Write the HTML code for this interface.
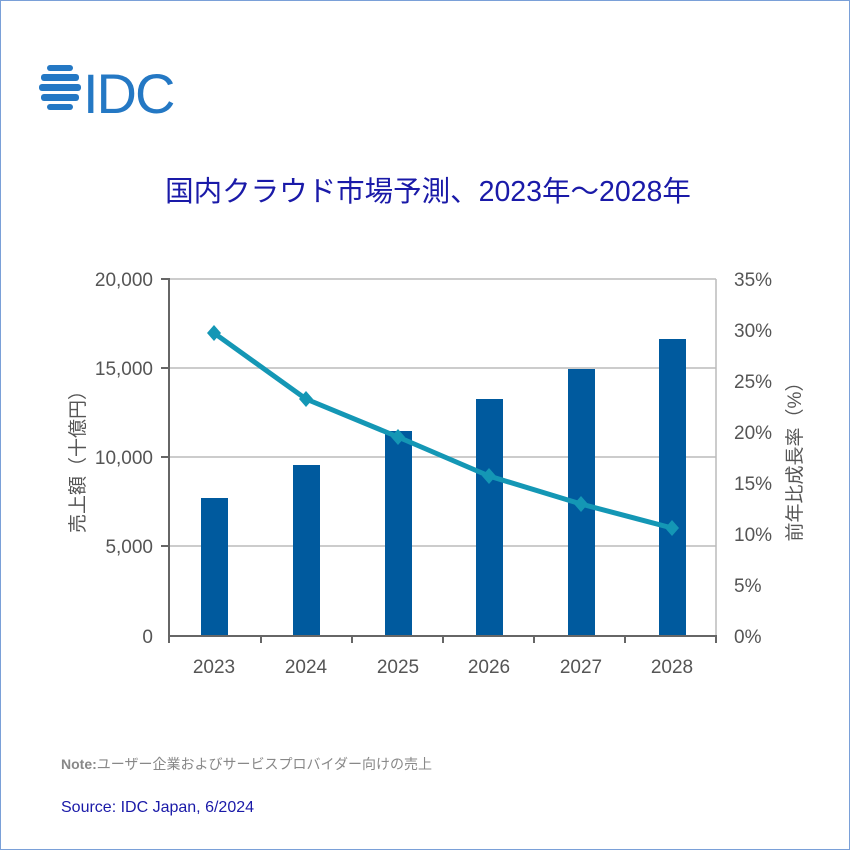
<!DOCTYPE html>
<html><head><meta charset="utf-8"><style>
body{margin:0;background:#fff;}
.wrap{position:relative;width:848px;height:848px;border:1px solid #7aa0d8;overflow:hidden;font-family:"Liberation Sans","Noto Sans CJK JP",sans-serif;}
</style></head><body><div class="wrap">
<svg width="850" height="850" style="position:absolute;left:0;top:0" font-family="Liberation Sans, Noto Sans CJK JP, sans-serif">
<g fill="#2478c4">
<rect x="46" y="64" width="26" height="6" rx="3"/>
<rect x="40" y="73" width="38" height="7" rx="3"/>
<rect x="38" y="83" width="42" height="7" rx="3"/>
<rect x="40" y="93" width="38" height="7" rx="3"/>
<rect x="46" y="103" width="26" height="6" rx="3"/>
</g>
<text x="82" y="112" font-size="56" fill="#2478c4" letter-spacing="-2">IDC</text>
<text x="427" y="200" font-size="28.5" fill="#1a1aa8" text-anchor="middle">国内クラウド市場予測、2023年～2028年</text>
<g stroke="#bbbbbb" stroke-width="1.5">
<line x1="168" y1="278" x2="715" y2="278"/>
<line x1="168" y1="367" x2="715" y2="367"/>
<line x1="168" y1="456" x2="715" y2="456"/>
<line x1="168" y1="545" x2="715" y2="545"/>
<line x1="715" y1="278" x2="715" y2="635"/>
</g>
<g fill="#005a9e">
<rect x="200" y="497" width="27" height="138"/>
<rect x="292" y="464" width="27" height="171"/>
<rect x="384" y="430" width="27" height="205"/>
<rect x="475" y="398" width="27" height="237"/>
<rect x="567" y="368" width="27" height="267"/>
<rect x="658" y="338" width="27" height="297"/>
</g>
<g stroke="#666" stroke-width="2">
<line x1="168" y1="277" x2="168" y2="636"/>
<line x1="168" y1="635" x2="716" y2="635"/>
<line x1="160" y1="278" x2="168" y2="278"/>
<line x1="160" y1="367" x2="168" y2="367"/>
<line x1="160" y1="456" x2="168" y2="456"/>
<line x1="160" y1="545" x2="168" y2="545"/>
<line x1="260" y1="635" x2="260" y2="642"/>
<line x1="351" y1="635" x2="351" y2="642"/>
<line x1="442" y1="635" x2="442" y2="642"/>
<line x1="533" y1="635" x2="533" y2="642"/>
<line x1="624" y1="635" x2="624" y2="642"/>
<line x1="715" y1="635" x2="715" y2="642"/>
<line x1="168" y1="635" x2="168" y2="642"/>
</g>
<polyline points="213,332 305,398 397,436 488,475 580,503 671,527" fill="none" stroke="#1497b5" stroke-width="5" stroke-linejoin="round"/>
<g fill="#1497b5">
<polygon points="213,324 220,332 213,340 206,332"/>
<polygon points="305,390 312,398 305,406 298,398"/>
<polygon points="397,428 404,436 397,444 390,436"/>
<polygon points="488,467 495,475 488,483 481,475"/>
<polygon points="580,495 587,503 580,511 573,503"/>
<polygon points="671,519 678,527 671,535 664,527"/>
</g>
<g font-size="19" fill="#555" text-anchor="end">
<text x="152" y="285">20,000</text>
<text x="152" y="374">15,000</text>
<text x="152" y="463">10,000</text>
<text x="152" y="552">5,000</text>
<text x="152" y="642">0</text>
</g>
<g font-size="19" fill="#555">
<text x="733" y="285">35%</text>
<text x="733" y="336">30%</text>
<text x="733" y="387">25%</text>
<text x="733" y="438">20%</text>
<text x="733" y="489">15%</text>
<text x="733" y="540">10%</text>
<text x="733" y="591">5%</text>
<text x="733" y="642">0%</text>
</g>
<g font-size="19" fill="#555" text-anchor="middle">
<text x="213" y="672">2023</text>
<text x="305" y="672">2024</text>
<text x="397" y="672">2025</text>
<text x="488" y="672">2026</text>
<text x="580" y="672">2027</text>
<text x="671" y="672">2028</text>
</g>
<text transform="translate(83,456) rotate(-90)" font-size="19" fill="#555" text-anchor="middle">売上額（十億円）</text>
<text transform="translate(800,456) rotate(-90)" font-size="19" fill="#555" text-anchor="middle">前年比成長率（%）</text>
<text x="60" y="768" font-size="14" fill="#888"><tspan font-weight="bold">Note:</tspan>ユーザー企業およびサービスプロバイダー向けの売上</text>
<text x="60" y="811" font-size="16" fill="#1a1aa8">Source: IDC Japan, 6/2024</text>
</svg>
</div></body></html>
